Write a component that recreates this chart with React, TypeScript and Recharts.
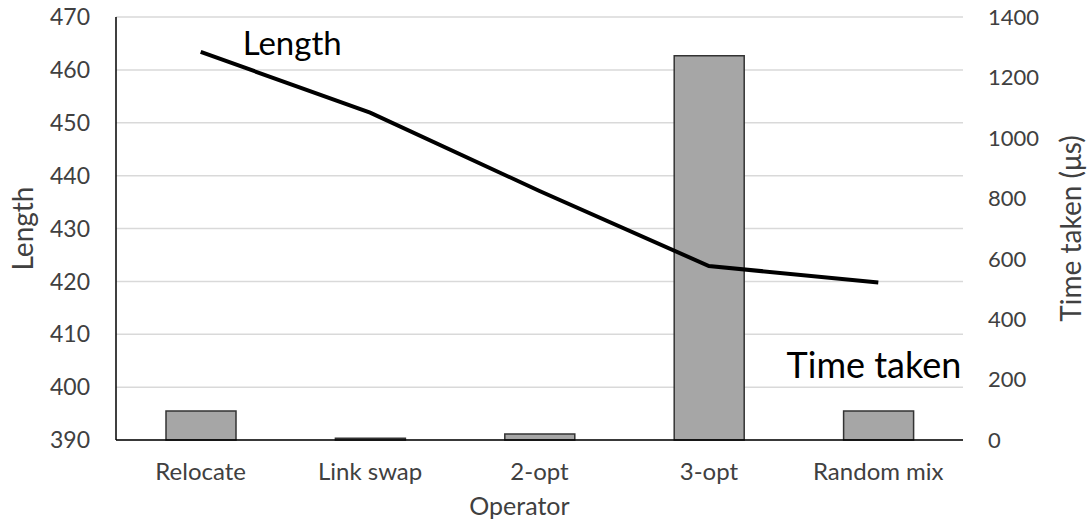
import { Bar, CartesianGrid, ComposedChart, Label, Line, XAxis, YAxis } from "recharts";

const operators = ["Relocate", "Link swap", "2-opt", "3-opt", "Random mix"];
const tourLengths = [463.4, 451.9, 437.1, 422.9, 419.8];
const timeTakenUs = [96, 6, 20, 1272, 96];
const lengthTicks = [390, 400, 410, 420, 430, 440, 450, 460, 470];
const timeTicks = [0, 200, 400, 600, 800, 1000, 1200, 1400];

const data = operators.map((operator, i) => ({
  operator,
  length: tourLengths[i],
  time: timeTakenUs[i],
}));

const FONT = "Lato, 'Open Sans', sans-serif";
const TICK_COLOR = "#404040";
const tickStyle = { fontSize: 22, fill: TICK_COLOR, fontFamily: FONT };

type Box = { x: number; y: number; width: number; height: number };

const verticalTitle = (text: string, dx: number) => (props: any) => {
  const vb = props.viewBox as Box;
  const cx = vb.x + dx;
  const cy = vb.y + vb.height / 2;
  return (
    <text
      x={cx}
      y={cy}
      transform={`rotate(-90, ${cx}, ${cy})`}
      textAnchor="middle"
      dominantBaseline="central"
      fontSize={28}
      fill={TICK_COLOR}
      fontFamily={FONT}
    >
      {text}
    </text>
  );
};

const operatorTitle = (props: any) => {
  const vb = props.viewBox as Box;
  return (
    <text x={vb.x + vb.width / 2 - 20} y={vb.y + 75} textAnchor="middle" fontSize={25} fill={TICK_COLOR} fontFamily={FONT}>
      Operator
    </text>
  );
};

// series names sit next to their marks instead of in a legend
const lengthTag = (props: any) => {
  if (props.index !== 0) return null;
  return (
    <text key="length-tag" x={props.x + 42} y={props.y + 3} fontSize={33} fill="#000" fontFamily={FONT}>
      Length
    </text>
  );
};

const timeTag = (props: any) => {
  if (props.index !== operators.length - 1) return null;
  return (
    <text key="time-tag" x={props.x - 57} y={props.y - 33} fontSize={36} fill="#000" fontFamily={FONT}>
      Time taken
    </text>
  );
};

export default function App() {
  return (
    <div style={{ position: "absolute", left: 0, top: 0, width: 1088, height: 527, background: "#fff", fontFamily: FONT }}>
      <ComposedChart width={1088} height={527} data={data} margin={{ top: 17, right: 0, bottom: 0, left: 0 }}>
        <CartesianGrid yAxisId="length" vertical={false} stroke="#d9d9d9" strokeWidth={1.5} />
        <XAxis
          dataKey="operator"
          height={87}
          tickLine={false}
          tickSize={0}
          tickMargin={23}
          axisLine={{ stroke: "#000", strokeWidth: 1.5 }}
          tick={{ ...tickStyle, fontSize: 24 }}
        >
          <Label content={operatorTitle} />
        </XAxis>
        <YAxis
          yAxisId="length"
          orientation="left"
          width={116}
          domain={[390, 470]}
          ticks={lengthTicks}
          tickLine={false}
          tickSize={0}
          tickMargin={26}
          axisLine={{ stroke: "#000", strokeWidth: 1.5 }}
          tick={{ ...tickStyle, fontSize: 23 }}
        >
          <Label content={verticalTitle("Length", 22)} />
        </YAxis>
        <YAxis
          yAxisId="time"
          orientation="right"
          width={125}
          domain={[0, 1400]}
          ticks={timeTicks}
          tickLine={false}
          tickSize={0}
          tickMargin={25}
          axisLine={false}
          tick={{ ...tickStyle, textAnchor: "start" }}
        >
          <Label content={verticalTitle("Time taken (μs)", 107)} />
        </YAxis>
        <Bar
          yAxisId="time"
          dataKey="time"
          barSize={70}
          fill="#a6a6a6"
          stroke="#333"
          strokeWidth={1.5}
          isAnimationActive={false}
          label={timeTag}
        />
        <Line
          yAxisId="length"
          dataKey="length"
          type="linear"
          stroke="#000"
          strokeWidth={4}
          dot={false}
          activeDot={false}
          isAnimationActive={false}
          label={lengthTag}
        />
      </ComposedChart>
    </div>
  );
}
